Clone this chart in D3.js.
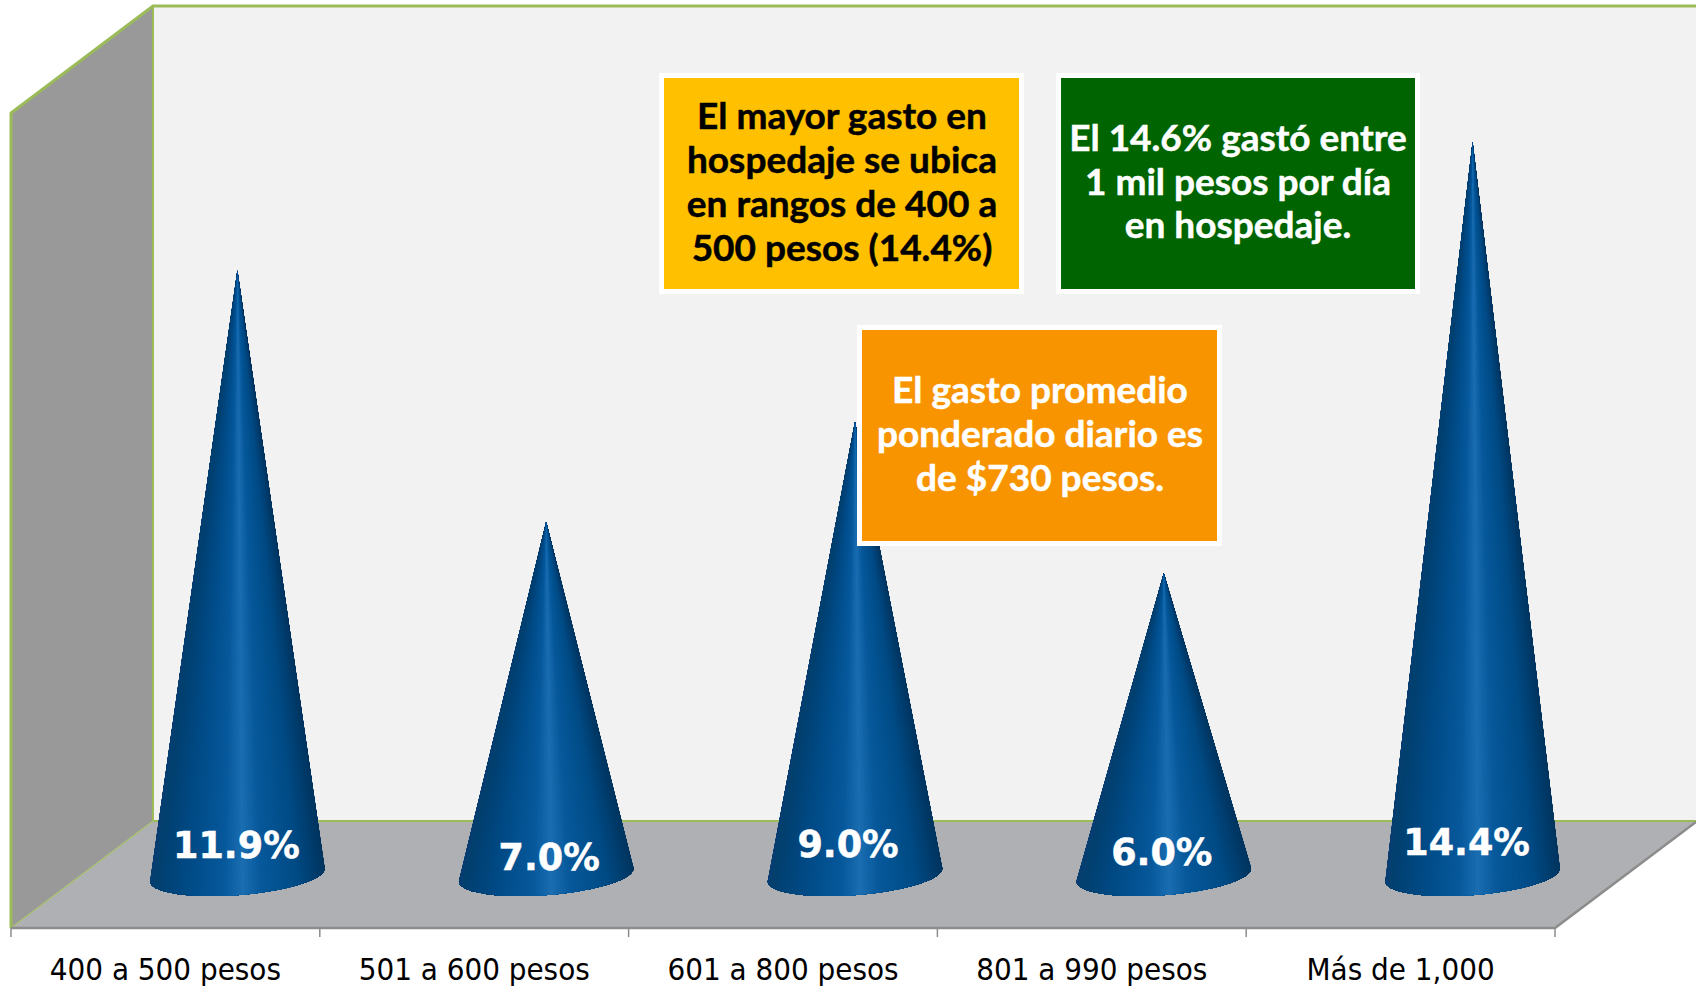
<html>
  <head>
    <meta charset="utf-8">
    <script src="https://d3js.org/d3.v7.min.js"></script>
    <style>
      body { margin: 0; background: #fff; }
      svg { display: block; }
      .tick-label { font-family: "DejaVu Sans"; font-stretch: condensed; font-size: 31px; fill: #000; text-anchor: middle; }
      .value-label { font-family: "DejaVu Sans"; font-weight: bold; font-size: 36.5px; fill: #fff; stroke: #fff; stroke-width: 0.5px; text-anchor: middle; }
      .note { font-family: "Lato"; font-weight: bold; font-size: 37px; stroke-width: 0.5px; text-anchor: middle; }
    </style>
  </head>

  <body>
  <div id='chart'></div>
  <script>

  var categories = ["400 a 500 pesos", "501 a 600 pesos", "601 a 800 pesos", "801 a 990 pesos", "Más de 1,000"];
  var values = [11.9, 7.0, 8.95, 6.0, 14.4];
  var valueLabels = ["11.9%", "7.0%", "9.0%", "6.0%", "14.4%"];

  var notes = [
    { lines: ["El mayor gasto en", "hospedaje se ubica", "en rangos de 400 a", "500 pesos (14.4%)"] },
    { lines: ["El 14.6% gastó entre", "1 mil pesos por día", "en hospedaje."] },
    { lines: ["El gasto promedio", "ponderado diario es", "de $730 pesos."] }
  ];

  // layout
  var W = 1696, H = 993;
  var frontLeft = 11, frontRight = 1555, frontY = 928;
  var depthX = 142, depthY = 106;   // oblique shift of the floor
  var coneShift = 72;
  var topY = 6;
  var backX = frontLeft + depthX, backY = frontY - depthY - 1;
  var labelShift = [[-1, -17], [3, -5], [-7, -18], [-2, -10], [-6, -20]];
  var noteBoxes = [
    { x: 661.5, y: 75.5, w: 360, h: 216, fill: "#FFC000", color: "#000", cx: 842, base: 129, step: 44 },
    { x: 1058.5, y: 75.5, w: 359, h: 216, fill: "#006400", color: "#fff", cx: 1238, base: 151, step: 43.7 },
    { x: 859.5, y: 327.5, w: 360, h: 216, fill: "#F79400", color: "#fff", cx: 1040, base: 403, step: 44 }
  ];

  var svg = d3.select("#chart").append("svg").attr("width", W).attr("height", H);

  var x = d3.scaleBand().domain(categories).range([frontLeft, frontRight]);
  var y = d3.scaleLinear().domain([0, 16]).range([881, 60]);

  var line = d3.line();

  // back wall
  svg.append("rect").attr("x", backX).attr("y", topY).attr("width", W - backX).attr("height", backY - topY)
     .attr("fill", "#F2F2F2");
  // left wall
  svg.append("path").attr("d", line([[frontLeft, topY + depthY + 1], [backX, topY], [backX, backY], [frontLeft, frontY]]) + "Z")
     .attr("fill", "#999999");
  // floor
  svg.append("path").attr("d", line([[frontLeft, frontY], [backX, backY], [W, backY], [W, backY + 1], [frontRight, frontY]]) + "Z")
     .attr("fill", "#AEB0B4");

  // wall edges
  var green = "#9BBB59";
  svg.append("path").attr("d", line([[frontLeft, frontY], [frontLeft, topY + depthY + 1], [backX, topY], [W, topY]]))
     .attr("fill", "none").attr("stroke", green).attr("stroke-width", 3);
  svg.append("path").attr("d", line([[backX, topY], [backX, backY], [W, backY]]))
     .attr("fill", "none").attr("stroke", green).attr("stroke-width", 2);
  svg.append("path").attr("d", line([[frontLeft, frontY], [backX, backY]]))
     .attr("fill", "none").attr("stroke", "#A9C173").attr("stroke-width", 1.5);
  svg.append("path").attr("d", line([[frontLeft, frontY], [frontRight, frontY], [W, backY + 1]]))
     .attr("fill", "none").attr("stroke", "#8C8C8C").attr("stroke-width", 2.5);

  // category axis
  var axis = svg.append("g").attr("transform", "translate(0," + frontY + ")")
     .call(d3.axisBottom(x).tickSize(0).tickPadding(0));
  axis.select(".domain").remove();
  axis.selectAll(".tick text").remove();
  axis.selectAll(".tick").each(function(d) {
     d3.select(this).append("text").attr("class", "tick-label").attr("y", 52).text(d);
  });
  var edges = categories.map(function(c) { return x(c); }).concat([frontRight]);
  svg.selectAll(".edge").data(edges).enter().append("line")
     .attr("class", "edge")
     .attr("x1", function(d) { return d; }).attr("x2", function(d) { return d; })
     .attr("y1", frontY).attr("y2", frontY + 9)
     .attr("stroke", "#8C8C8C").attr("stroke-width", 1.5);

  // cones: nested fans painted from the rim in to the highlight, so the
  // shading converges on the tip and no seams show through
  var shade = d3.scaleLinear()
     .domain([0, 0.03, 0.2, 0.42, 0.53, 0.64, 0.85, 0.97, 1])
     .range(["#0B3F72", "#03406F", "#014A85", "#07599C", "#1C6EB2", "#07599B", "#014B85", "#023A68", "#033660"])
     .clamp(true);

  var rx = 87.5, ry = 20, tilt = -4.5 * Math.PI / 180;
  var baseY = 875;
  var tMid = Math.acos(0.06);
  var ts = d3.range(-0.16, Math.PI + 0.16, 0.012);

  function rim(cx, t) {
    var px = rx * Math.cos(t), py = ry * Math.sin(t);
    return [cx + px * Math.cos(tilt) - py * Math.sin(tilt),
            baseY + px * Math.sin(tilt) + py * Math.cos(tilt)];
  }

  categories.forEach(function(c, i) {
    var cx = x(c) + x.bandwidth() / 2 + coneShift;
    var apex = [cx, y(values[i])];
    var layers = ts.map(function(t) {
      var arc = d3.range(Math.min(t, tMid), Math.max(t, tMid), 0.03).concat([Math.max(t, tMid)]);
      return {
        t: t,
        u: (rim(cx, t)[0] - (cx - rx)) / (2 * rx),
        pts: [apex].concat(arc.map(function(a) { return rim(cx, a); }))
      };
    });
    layers.sort(function(p, q) { return Math.abs(q.t - tMid) - Math.abs(p.t - tMid); });
    svg.append("g").attr("class", "cone").selectAll("path").data(layers).enter().append("path")
       .attr("d", function(d) { return line(d.pts) + "Z"; })
       .attr("fill", function(d) { return shade(d.u); });
  });

  // value labels
  svg.selectAll(".value-label").data(categories).enter().append("text")
     .attr("class", "value-label")
     .attr("x", function(c, i) { return x(c) + x.bandwidth() / 2 + coneShift + labelShift[i][0]; })
     .attr("y", function(c, i) { return baseY + labelShift[i][1]; })
     .text(function(c, i) { return valueLabels[i]; });

  // note boxes
  noteBoxes.forEach(function(b, i) {
    svg.append("rect").attr("x", b.x).attr("y", b.y).attr("width", b.w).attr("height", b.h)
       .attr("fill", b.fill).attr("stroke", "#fff").attr("stroke-width", 5);
    svg.append("g").selectAll("text").data(notes[i].lines).enter().append("text")
       .attr("class", "note")
       .attr("x", b.cx)
       .attr("y", function(d, k) { return b.base + k * b.step; })
       .attr("fill", b.color)
       .attr("stroke", b.color)
       .text(function(d) { return d; });
  });

  </script>
  </body>

</html>
